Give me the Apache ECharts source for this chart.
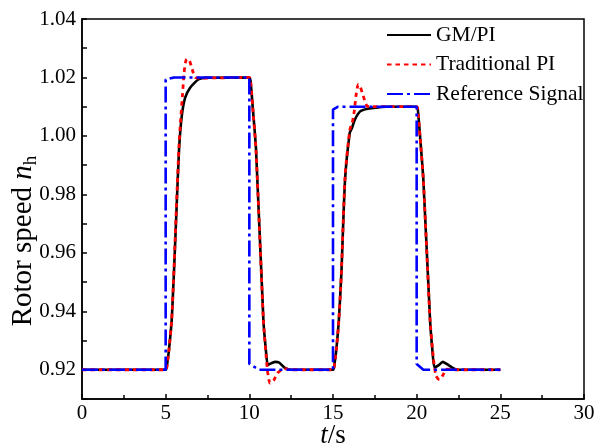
<!DOCTYPE html>
<html>
<head>
<meta charset="utf-8">
<script src="https://cdn.jsdelivr.net/npm/echarts@6/dist/echarts.min.js"></script>
<style>
html,body{margin:0;padding:0;background:#fff;}
#c{width:596px;height:447px;}
</style>
</head>
<body>
<div id="c"></div>
<script>
// ---- data ----
const xTicks = [0, 5, 10, 15, 20, 25, 30];
const yTicks = [0.92, 0.94, 0.96, 0.98, 1.00, 1.02, 1.04];
const seriesNames = ['GM/PI', 'Traditional PI', 'Reference Signal'];

const tGM = [0, 5, 5.1, 5.2, 5.36, 5.5, 5.65, 5.8, 5.96, 6.16, 6.46, 6.95, 7.45, 10,
  10.1, 10.2, 10.4, 10.84, 11.0, 11.1, 11.3, 11.55, 11.8, 12.1, 12.5, 15,
  15.1, 15.2, 15.35, 15.5, 15.72, 16.0, 16.12, 16.3, 16.62, 17.0, 17.42, 18.2, 20,
  20.1, 20.2, 20.4, 20.8, 20.95, 21.06, 21.3, 21.56, 21.9, 22.4, 25];
const vGM = [0.92, 0.92, 0.9225, 0.927, 0.937, 0.954, 0.975, 0.9954, 1.0067, 1.013, 1.0165, 1.0193, 1.0199, 1.02,
  1.017, 1.01, 0.9954, 0.937, 0.926, 0.9217, 0.9222, 0.9227, 0.9224, 0.9207, 0.92, 0.92,
  0.9225, 0.927, 0.937, 0.953, 0.985, 1.0011, 1.0025, 1.0055, 1.0084, 1.0092, 1.0096, 1.01, 1.01,
  1.007, 1.0, 0.985, 0.937, 0.926, 0.9208, 0.9215, 0.9227, 0.9216, 0.92, 0.92];

const tPI = [0, 5, 5.1, 5.2, 5.36, 5.5, 5.65, 5.8, 5.9, 6.0, 6.1, 6.18, 6.26, 6.36, 6.46, 6.65, 6.78, 7.2, 10,
  10.1, 10.2, 10.4, 10.84, 11.0, 11.1, 11.24, 11.45, 11.7, 12.1, 12.5, 15,
  15.1, 15.2, 15.35, 15.5, 15.72, 16.0, 16.15, 16.27, 16.37, 16.45, 16.52, 16.62, 16.81, 17.01, 17.15, 20,
  20.1, 20.2, 20.4, 20.8, 21.0, 21.15, 21.36, 21.55, 21.8, 22.2, 25];
const vPI = [0.92, 0.92, 0.9225, 0.927, 0.937, 0.955, 0.977, 0.997, 1.006, 1.0136, 1.0216, 1.025, 1.0263, 1.0262, 1.0252, 1.0216, 1.02, 1.0198, 1.02,
  1.017, 1.01, 0.995, 0.937, 0.925, 0.919, 0.9154, 0.9163, 0.919, 0.9204, 0.92, 0.92,
  0.9225, 0.927, 0.937, 0.953, 0.986, 1.002, 1.0045, 1.0084, 1.0136, 1.0165, 1.0176, 1.017, 1.0136, 1.0104, 1.01, 1.01,
  1.007, 1.0, 0.985, 0.937, 0.924, 0.918, 0.9166, 0.918, 0.9202, 0.92, 0.92];

const tRef = [0, 5, 5, 5.5, 10, 10, 10.6, 15, 15, 15.3, 20, 20, 20.4, 25];
const vRef = [0.92, 0.92, 1.0193, 1.02, 1.02, 0.922, 0.92, 0.92, 1.009, 1.01, 1.01, 0.922, 0.92, 0.92];

// ---- chart ----
const pair = (t, v) => t.map((x, i) => [x, v[i]]);
const FONT = '"Liberation Serif", "Times New Roman", serif';

const chart = echarts.init(document.getElementById('c'), null, {renderer: 'canvas'});

const ctx = document.createElement('canvas').getContext('2d');
function w(txt, font) { ctx.font = font; return ctx.measureText(txt).width; }
const titleSize = 29;
const part1 = 'Rotor speed ';
const w1 = w(part1, titleSize + 'px ' + FONT);
const w2 = w('n', 'italic ' + titleSize + 'px ' + FONT);
const subSize = 19;
const w3 = w('h', subSize + 'px ' + FONT);
const total = w1 + w2 + w3;

const option = {
  animation: false,
  backgroundColor: '#fff',
  grid: {left: 82, right: 12, top: 19, bottom: 48, outerBoundsMode: 'none', containLabel: false,
    show: true, borderColor: '#000', borderWidth: 1.5, backgroundColor: 'transparent'},
  legend: {
    data: seriesNames,
    orient: 'vertical',
    left: 381, top: 19,
    itemWidth: 44, itemHeight: 12, itemGap: 7.5,
    itemStyle: {opacity: 0},
    textStyle: {fontFamily: FONT, fontSize: 21.5, color: '#000', lineHeight: 22}
  },
  xAxis: {
    type: 'value', min: 0, max: 30, interval: 5,
    axisLine: {show: true, lineStyle: {color: '#000', width: 1.5}},
    axisTick: {show: true, inside: true, length: 5, lineStyle: {color: '#000', width: 1.5}},
    minorTick: {show: true, splitNumber: 2, length: 4, lineStyle: {color: '#000', width: 1.5}},
    splitLine: {show: false},
    axisLabel: {fontFamily: FONT, fontSize: 21, color: '#000', margin: 4,
      formatter: v => xTicks.includes(v) ? String(v) : ''},
    name: '{i|t}{r|/s}',
    nameLocation: 'middle', nameGap: 24, nameMoveOverlap: false,
    nameTextStyle: {lineHeight: 26, rich: {
      i: {fontFamily: FONT, fontSize: 27, fontStyle: 'italic', color: '#000', lineHeight: 26},
      r: {fontFamily: FONT, fontSize: 27, color: '#000', lineHeight: 26}
    }}
  },
  yAxis: {
    type: 'value', min: 0.91, max: 1.04, interval: 0.01,
    axisLine: {show: true, lineStyle: {color: '#000', width: 1.5}},
    axisTick: {show: true, inside: true, length: 5, lineStyle: {color: '#000', width: 1.5}},
    splitLine: {show: false},
    axisLabel: {fontFamily: FONT, fontSize: 21, color: '#000', margin: 6,
      formatter: v => {
        const m = yTicks.find(t => Math.abs(t - v) < 1e-6);
        return m === undefined ? '' : m.toFixed(2);
      }}
  },
  graphic: [{
    type: 'group',
    x: 23, y: 241,
    rotation: Math.PI / 2,
    children: [
      {type: 'text', x: -total / 2, y: 0, style: {text: part1, font: titleSize + 'px ' + FONT, fill: '#000', textVerticalAlign: 'middle'}},
      {type: 'text', x: -total / 2 + w1, y: 0, style: {text: 'n', font: 'italic ' + titleSize + 'px ' + FONT, fill: '#000', textVerticalAlign: 'middle'}},
      {type: 'text', x: -total / 2 + w1 + w2, y: 8, style: {text: 'h', font: subSize + 'px ' + FONT, fill: '#000', textVerticalAlign: 'middle'}}
    ]
  }],
  series: [
    {name: seriesNames[0], type: 'line', data: pair(tGM, vGM), showSymbol: false, symbol: 'none',
     smooth: 0.2, lineStyle: {color: '#000', width: 2.6, type: 'solid'}, itemStyle: {color: '#000'}, z: 2},
    {name: seriesNames[1], type: 'line', data: pair(tPI, vPI), showSymbol: false, symbol: 'none',
     smooth: 0.2, lineStyle: {color: '#ff0000', width: 2.8, type: [4.5, 4], cap: 'butt'}, itemStyle: {color: '#ff0000'}, z: 3},
    {name: seriesNames[2], type: 'line', data: pair(tRef, vRef), showSymbol: false, symbol: 'none',
     lineStyle: {color: '#0000ff', width: 2.6, type: [16, 4, 3, 4], cap: 'butt'}, itemStyle: {color: '#0000ff'}, z: 4}
  ]
};
chart.setOption(option);
</script>
</body>
</html>
